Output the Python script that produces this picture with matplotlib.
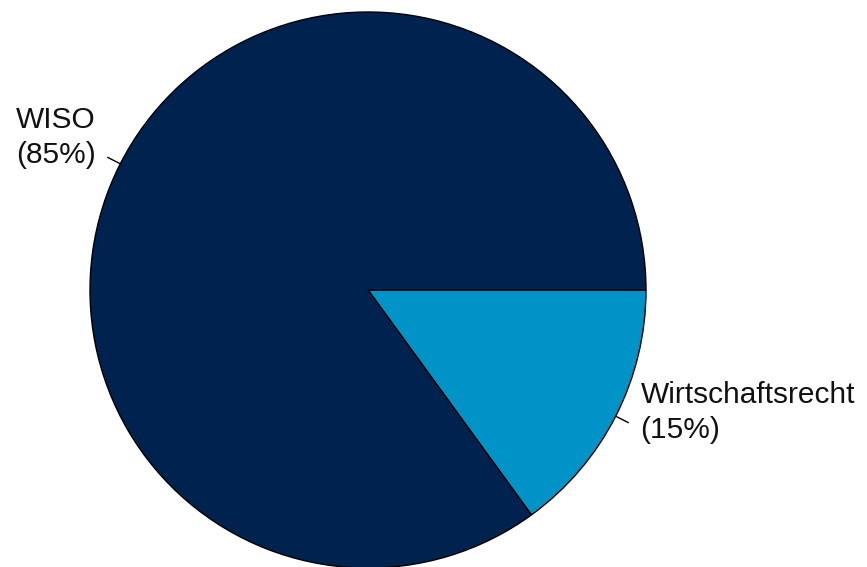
import numpy as np
import matplotlib
matplotlib.use("Agg")
import matplotlib.pyplot as plt

plt.rcParams['font.family'] = ['Liberation Sans', 'DejaVu Sans']

labels = ["Wirtschaftsrecht", "WISO"]
shares = [15, 85]
colors = ["#0093C7", "#00224F"]

fig = plt.figure(figsize=(8.67, 5.67), dpi=100)

# pie centre at (368, 290) px, radius 278 px
R = 278.0
L = 1.3
cx, cy = 368.0, 290.0
W, H = 867.0, 567.0
ax = fig.add_axes([(cx - R * L) / W, (H - cy - R * L) / H, 2 * R * L / W, 2 * R * L / H])

wedges, _ = ax.pie(shares, colors=colors, startangle=0, counterclock=False,
                   wedgeprops=dict(edgecolor="black", linewidth=1.0))
ax.set_xlim(-L, L)
ax.set_ylim(-L, L)
ax.set_aspect("equal")
ax.axis("off")

# short leader line plus two-line label for each slice
for w, name, val in zip(wedges, labels, shares):
    mid = np.deg2rad((w.theta1 + w.theta2) / 2)
    c, s = np.cos(mid), np.sin(mid)
    ax.plot([c, 1.05 * c], [s, 1.05 * s], color="black", lw=1.0)
    ha = "left" if c > 0 else "right"
    dy = 0.06 if c > 0 else 0.05
    ax.text(1.1 * c, 1.1 * s + dy, f"{name}\n({val}%)", ha=ha, va="center",
            multialignment="left", fontsize=21.5, color="#111111", linespacing=1.32)

fig.savefig("out.png", dpi=100)
